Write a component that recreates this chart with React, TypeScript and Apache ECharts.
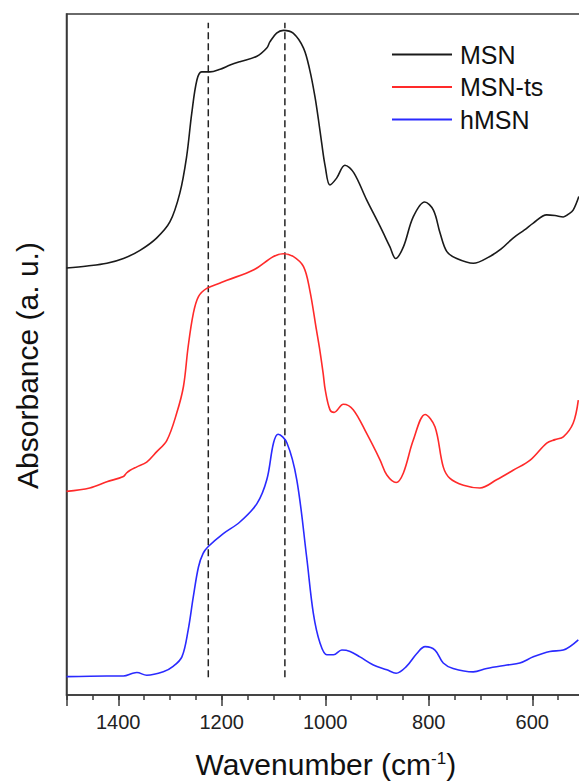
import React, { useEffect, useRef } from "react";
import * as echarts from "echarts";

// MSN (black)
const msnWn = [1500, 1460, 1422, 1390, 1358, 1326, 1300, 1281, 1268, 1258, 1248, 1239, 1223, 1203, 1184, 1165, 1132, 1113, 1107, 1094, 1081, 1062, 1042, 1030, 1020, 1013, 1007, 1000, 991, 978, 962, 945, 920, 894, 875, 864, 849, 830, 808, 791, 778, 765, 746, 714, 682, 660, 637, 615, 598, 572, 556, 540, 530, 521, 510];
const msnAbs = [62.7, 63.0, 63.4, 64.1, 65.3, 67.1, 69.5, 73.7, 79.0, 85.4, 90.3, 91.5, 91.5, 91.9, 92.5, 93.0, 93.8, 95.0, 95.9, 97.2, 97.6, 97.2, 95.0, 91.8, 87.9, 84.4, 81.1, 77.6, 74.9, 75.9, 77.8, 76.7, 72.7, 68.8, 65.8, 64.1, 65.8, 70.2, 72.4, 71.2, 67.8, 65.1, 64.1, 63.4, 64.4, 65.5, 67.1, 68.3, 69.3, 70.5, 70.4, 70.2, 70.6, 71.2, 73.2];

// MSN-ts (red)
const msnTsWn = [1500, 1455, 1422, 1390, 1384, 1377, 1364, 1345, 1326, 1306, 1287, 1274, 1265, 1255, 1245, 1229, 1203, 1190, 1139, 1100, 1081, 1062, 1042, 1030, 1017, 1010, 1004, 1000, 991, 983, 965, 946, 920, 894, 881, 863, 849, 830, 807, 788, 772, 759, 733, 701, 669, 637, 604, 572, 556, 540, 521, 511];
const msnTsAbs = [29.9, 30.4, 31.3, 32.1, 32.6, 33.0, 33.5, 34.2, 35.7, 37.4, 41.4, 45.3, 51.1, 56.0, 58.5, 59.7, 60.5, 60.9, 62.4, 64.4, 64.8, 64.4, 62.9, 59.5, 53.6, 50.4, 47.2, 44.8, 41.9, 41.5, 42.7, 41.9, 38.4, 34.5, 32.3, 31.2, 32.6, 37.4, 41.2, 39.4, 33.5, 31.8, 30.8, 30.4, 31.6, 33.0, 34.5, 37.0, 37.5, 37.9, 39.9, 43.3];

// hMSN (blue)
const hmsnWn = [1500, 1422, 1390, 1372, 1364, 1345, 1313, 1294, 1277, 1265, 1255, 1245, 1236, 1226, 1197, 1165, 1132, 1113, 1100, 1091, 1074, 1055, 1036, 1023, 1010, 997, 984, 968, 952, 933, 907, 881, 863, 843, 823, 807, 788, 772, 753, 714, 688, 649, 624, 598, 566, 540, 511];
const hmsnAbs = [2.7, 2.8, 2.8, 3.2, 3.3, 2.9, 3.4, 4.2, 5.6, 9.5, 14.4, 18.8, 20.8, 21.8, 23.7, 25.4, 28.1, 31.6, 37.0, 38.3, 37.0, 31.6, 20.3, 12.0, 7.6, 5.9, 5.9, 6.6, 6.4, 5.6, 4.4, 3.7, 3.2, 4.2, 6.1, 7.1, 6.6, 4.7, 3.9, 3.4, 3.9, 4.4, 4.7, 5.6, 6.4, 6.6, 8.1];

// reference (dashed) lines
const refLines = [1226, 1078];
const refRange = [2.6, 98.7];

const seriesNames = ["MSN", "MSN-ts", "hMSN"];
const seriesColors = ["#1a1a1a", "#ff2a2a", "#2a2aff"];

const FONT = "'Liberation Sans', Arial, sans-serif";

const zip = (xs: number[], ys: number[]) => xs.map((x, i) => [x, ys[i]]);

export default function App() {
  const ref = useRef<HTMLDivElement>(null);
  useEffect(() => {
    if (!ref.current) return;
    const chart = echarts.init(ref.current, null, { renderer: "svg" });
    const data = [zip(msnWn, msnAbs), zip(msnTsWn, msnTsAbs), zip(hmsnWn, hmsnAbs)];
    const lineSeries = seriesNames.map((name, i) => ({
      name,
      type: "line",
      data: data[i],
      xAxisIndex: 0,
      yAxisIndex: 0,
      symbol: "none",
      smooth: 0.35,
      color: seriesColors[i],
      lineStyle: { color: seriesColors[i], width: 1.6 },
      z: 3,
    }));
    const dashSeries = refLines.map((x, i) => ({
      name: "ref" + i,
      type: "line",
      data: [[x, refRange[0]], [x, refRange[1]]],
      symbol: "none",
      silent: true,
      lineStyle: { color: "#222", width: 1.5, type: [7, 4] },
      z: 2,
    }));
    chart.setOption({
      animation: false,
      backgroundColor: "#fff",
      grid: {
        left: 66.5,
        right: 4.25,
        top: 14,
        bottom: 86,
        show: true,
        borderColor: "#3a3a3a",
        borderWidth: 1.5,
      },
      legend: {
        data: seriesNames,
        orient: "vertical",
        left: 387,
        top: 37,
        icon: "rect",
        itemWidth: 60,
        itemHeight: 2,
        itemGap: 7.5,
        textStyle: { fontSize: 25, lineHeight: 25, color: "#111", fontFamily: FONT, padding: [0, 0, 0, 3] },
      },
      graphic: [
        {
          type: "text",
          x: 27.5,
          y: 365.5,
          rotation: Math.PI / 2,
          style: {
            text: "Absorbance (a. u.)",
            fontSize: 30,
            fontFamily: FONT,
            fill: "#111",
            align: "center",
            verticalAlign: "middle",
          },
        },
        {
          type: "text",
          x: 325.8,
          y: 764.5,
          style: {
            text: "Wavenumber (cm{sup|-1})",
            fontSize: 30,
            fontFamily: FONT,
            fill: "#111",
            align: "center",
            verticalAlign: "middle",
            rich: { sup: { fontSize: 17, verticalAlign: "top", fontFamily: FONT, fill: "#111" } },
          },
        },
      ],
      xAxis: [
        {
          type: "value",
          position: "bottom",
          inverse: true,
          min: 400,
          max: 1500,
          interval: 200,
          axisLine: { show: true, lineStyle: { color: "#3a3a3a", width: 1.5 } },
          axisTick: { show: true, length: 11, lineStyle: { color: "#3a3a3a", width: 1.5 } },
          axisLabel: {
            fontSize: 20,
            color: "#222",
            fontFamily: FONT,
            margin: 17,
            formatter: (v: number) => (v >= 600 && v <= 1400 && v % 200 === 0 ? String(v) : ""),
          },
          splitLine: { show: false },
        },
        {
          type: "value",
          position: "bottom",
          inverse: true,
          min: 400,
          max: 1500,
          interval: 50,
          axisLine: { show: false },
          axisTick: { show: true, length: 5, lineStyle: { color: "#3a3a3a", width: 1.5 } },
          axisLabel: { show: false },
          splitLine: { show: false },
        },
      ],
      yAxis: {
        type: "value",
        min: 0,
        max: 100,
        axisLine: { show: true, lineStyle: { color: "#3a3a3a", width: 1.5 } },
        axisTick: { show: false },
        axisLabel: { show: false },
        splitLine: { show: false },
      },
      series: [...dashSeries, ...lineSeries],
    });
    return () => chart.dispose();
  }, []);
  return (
    <div
      ref={ref}
      style={{ position: "fixed", left: 0, top: 0, width: 640, height: 781, background: "#fff" }}
    />
  );
}
